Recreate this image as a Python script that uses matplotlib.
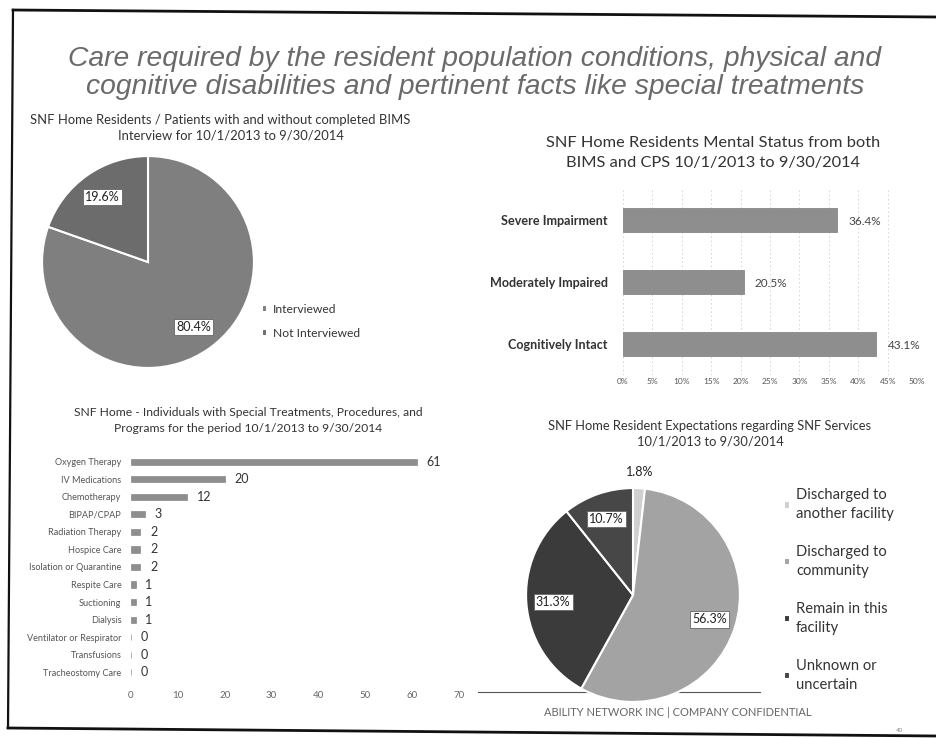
import math
import matplotlib.pyplot as plt
from matplotlib.lines import Line2D

plt.rcParams['font.family'] = ['Lato', 'DejaVu Sans']

# data
bims_labels = ['Interviewed', 'Not Interviewed']
bims_share = [80.4, 19.6]

status_labels = ['Cognitively Intact', 'Moderately Impaired', 'Severe Impairment']
status_share = [43.1, 20.5, 36.4]
status_ticks = list(range(0, 51, 5))

treat_labels = ['Oxygen Therapy', 'IV Medications', 'Chemotherapy', 'BIPAP/CPAP',
                'Radiation Therapy', 'Hospice Care', 'Isolation or Quarantine',
                'Respite Care', 'Suctioning', 'Dialysis', 'Ventilator or Respirator',
                'Transfusions', 'Tracheostomy Care']
treat_counts = [61, 20, 12, 3, 2, 2, 2, 1, 1, 1, 0, 0, 0]
treat_ticks = list(range(0, 71, 10))

expect_labels = ['Discharged to\nanother facility', 'Discharged to\ncommunity',
                 'Remain in this\nfacility', 'Unknown or\nuncertain']
expect_share = [1.8, 56.3, 31.3, 10.7]

W, H = 937, 738


def box(x, y, w, h):
    return [x / W, 1 - (y + h) / H, w / W, h / H]


def fx(x):
    return x / W


def fy(y):
    return 1 - y / H


def pct_of(values):
    total = sum(values)
    return lambda p: f'{p * total / 100:.1f}%'


fig = plt.figure(figsize=(W / 100, H / 100), dpi=100)
fig.patch.set_facecolor('white')

# page frame
for (x0, y0), (x1, y1), lw in [((13, 10), (937, 17), 2.0),
                               ((13, 10), (8, 728), 1.6),
                               ((8, 728), (937, 736), 2.0)]:
    fig.add_artist(Line2D([fx(x0), fx(x1)], [fy(y0), fy(y1)], color='#111', lw=lw))

# main heading
title_kw = dict(ha='center', va='center', fontsize=20.3, style='italic',
                color='#6a6a6a', family=['Liberation Sans', 'DejaVu Sans'])
fig.text(fx(475), fy(59), 'Care required by the resident population conditions, physical and', **title_kw)
fig.text(fx(475), fy(87), 'cognitive disabilities and pertinent facts like special treatments', **title_kw)

sub_kw = dict(ha='center', va='center', color='#333')

# ---- pie 1: BIMS interview
fig.text(fx(220), fy(120), 'SNF Home Residents / Patients with and without completed BIMS', fontsize=9.4, **sub_kw)
fig.text(fx(231), fy(135), 'Interview for 10/1/2013 to 9/30/2014', fontsize=9.4, **sub_kw)

ax1 = fig.add_axes(box(41, 155, 214, 214))
w1, _, at1 = ax1.pie(bims_share, colors=['#7f7f7f', '#6c6c6c'], startangle=90, counterclock=False,
                     autopct=pct_of(bims_share), pctdistance=0.75,
                     wedgeprops=dict(edgecolor='white', linewidth=1.5),
                     textprops=dict(fontsize=9, color='#222'))
for t in at1:
    t.set_bbox(dict(facecolor='white', edgecolor='#666', linewidth=0.6, pad=1.5))
ax1.set_xlim(-1.01, 1.01)
ax1.set_ylim(-1.01, 1.01)
ax1.patch.set_visible(False)
ax1.legend(w1, bims_labels, loc='upper left', bbox_to_anchor=(fx(251), fy(293)),
           bbox_transform=fig.transFigure, frameon=False, fontsize=8.7,
           handlelength=0.45, handleheight=0.45, handletextpad=0.5, labelspacing=1.05,
           labelcolor='#333')

# ---- bar chart 2: mental status
fig.text(fx(713), fy(143), 'SNF Home Residents Mental Status from both', fontsize=11.8, **sub_kw)
fig.text(fx(713), fy(163), 'BIMS and CPS 10/1/2013 to 9/30/2014', fontsize=11.8, **sub_kw)

ax2 = fig.add_axes(box(623, 189, 294, 186))
ax2.barh(range(len(status_share)), status_share, height=0.4, color='#8e8e8e', edgecolor='#7a7a7a', lw=0.5)
ax2.set_xlim(0, 50)
ax2.set_ylim(-0.5, 2.5)
ax2.set_xticks(status_ticks)
ax2.set_xticklabels([f'{t}%' for t in status_ticks], fontsize=6, color='#555')
ax2.set_yticks(range(len(status_labels)))
ax2.set_yticklabels(status_labels, fontsize=9.1, fontweight='bold', color='#333')
ax2.tick_params(axis='y', length=0, pad=11)
ax2.tick_params(axis='x', length=0, pad=2)
ax2.grid(axis='x', color='#d2d2d2', linestyle=(0, (2, 3)), lw=0.6)
ax2.set_axisbelow(True)
for s in ax2.spines.values():
    s.set_visible(False)
ax2.patch.set_visible(False)
for i, v in enumerate(status_share):
    ax2.annotate(f'{v}%', (v, i), xytext=(8, -1), textcoords='offset points',
                 va='center', fontsize=8.5, color='#444')

# ---- bar chart 3: special treatments
fig.text(fx(248), fy(412), 'SNF Home - Individuals with Special Treatments, Procedures, and', fontsize=8.7, **sub_kw)
fig.text(fx(248), fy(428), 'Programs for the period 10/1/2013 to 9/30/2014', fontsize=8.7, **sub_kw)

ax3 = fig.add_axes(box(131, 453, 328, 228))
ax3.barh(range(len(treat_counts)), treat_counts, height=0.35, color='#8e8e8e', edgecolor='#7a7a7a', lw=0.4)
ax3.set_xlim(0, 70)
ax3.set_ylim(len(treat_counts) - 0.5, -0.5)
ax3.set_xticks(treat_ticks)
ax3.set_xticklabels([str(t) for t in treat_ticks], fontsize=7, color='#666')
ax3.set_yticks(range(len(treat_labels)))
ax3.set_yticklabels(treat_labels, fontsize=6.6, color='#555')
ax3.tick_params(axis='y', length=0, pad=7)
ax3.tick_params(axis='x', length=0, pad=7)
for s in ax3.spines.values():
    s.set_visible(False)
ax3.patch.set_visible(False)
for i, v in enumerate(treat_counts):
    ax3.annotate(str(v), (v, i), xytext=(7, 0), textcoords='offset points',
                 va='center', fontsize=9, color='#333')

# ---- pie 4: expectations
fig.text(fx(710), fy(426), 'SNF Home Resident Expectations regarding SNF Services', fontsize=9.3, **sub_kw)
fig.text(fx(710), fy(442), '10/1/2013 to 9/30/2014', fontsize=9.3, **sub_kw)

fig.add_artist(Line2D([fx(478), fx(760)], [fy(692), fy(692)], color='#555', lw=0.8, zorder=-1))

ax4 = fig.add_axes(box(525, 487, 216, 216))
w4, _, at4 = ax4.pie(expect_share, colors=['#d0d0d0', '#a3a3a3', '#3b3b3b', '#474747'],
                     startangle=90, counterclock=False, autopct=pct_of(expect_share), pctdistance=0.75,
                     wedgeprops=dict(edgecolor='white', linewidth=1.5),
                     textprops=dict(fontsize=9, color='#222'))
for wdg, t, v in zip(w4, at4, expect_share):
    if v < 5:
        mid = math.radians((wdg.theta1 + wdg.theta2) / 2)
        t.set_position((1.15 * math.cos(mid), 1.15 * math.sin(mid)))
    else:
        t.set_bbox(dict(facecolor='white', edgecolor='#666', linewidth=0.6, pad=1.5))
ax4.set_xlim(-1.01, 1.01)
ax4.set_ylim(-1.01, 1.01)
ax4.patch.set_visible(False)
leg4 = ax4.legend(w4, expect_labels, loc='upper left', bbox_to_anchor=(fx(771), fy(475)),
                  bbox_transform=fig.transFigure, frameon=False, fontsize=10.6,
                  handlelength=0.4, handleheight=0.4, handletextpad=0.4, labelspacing=1.62,
                  labelcolor='#333')
for t in leg4.get_texts():
    t.set_linespacing(1.45)

fig.text(fx(678), fy(713), 'ABILITY NETWORK INC | COMPANY CONFIDENTIAL', ha='center', va='center',
         fontsize=8, color='#666')
fig.text(fx(900), fy(731), '40', ha='center', va='center', fontsize=4.5, color='#888')

fig.savefig('out.png', dpi=100)
